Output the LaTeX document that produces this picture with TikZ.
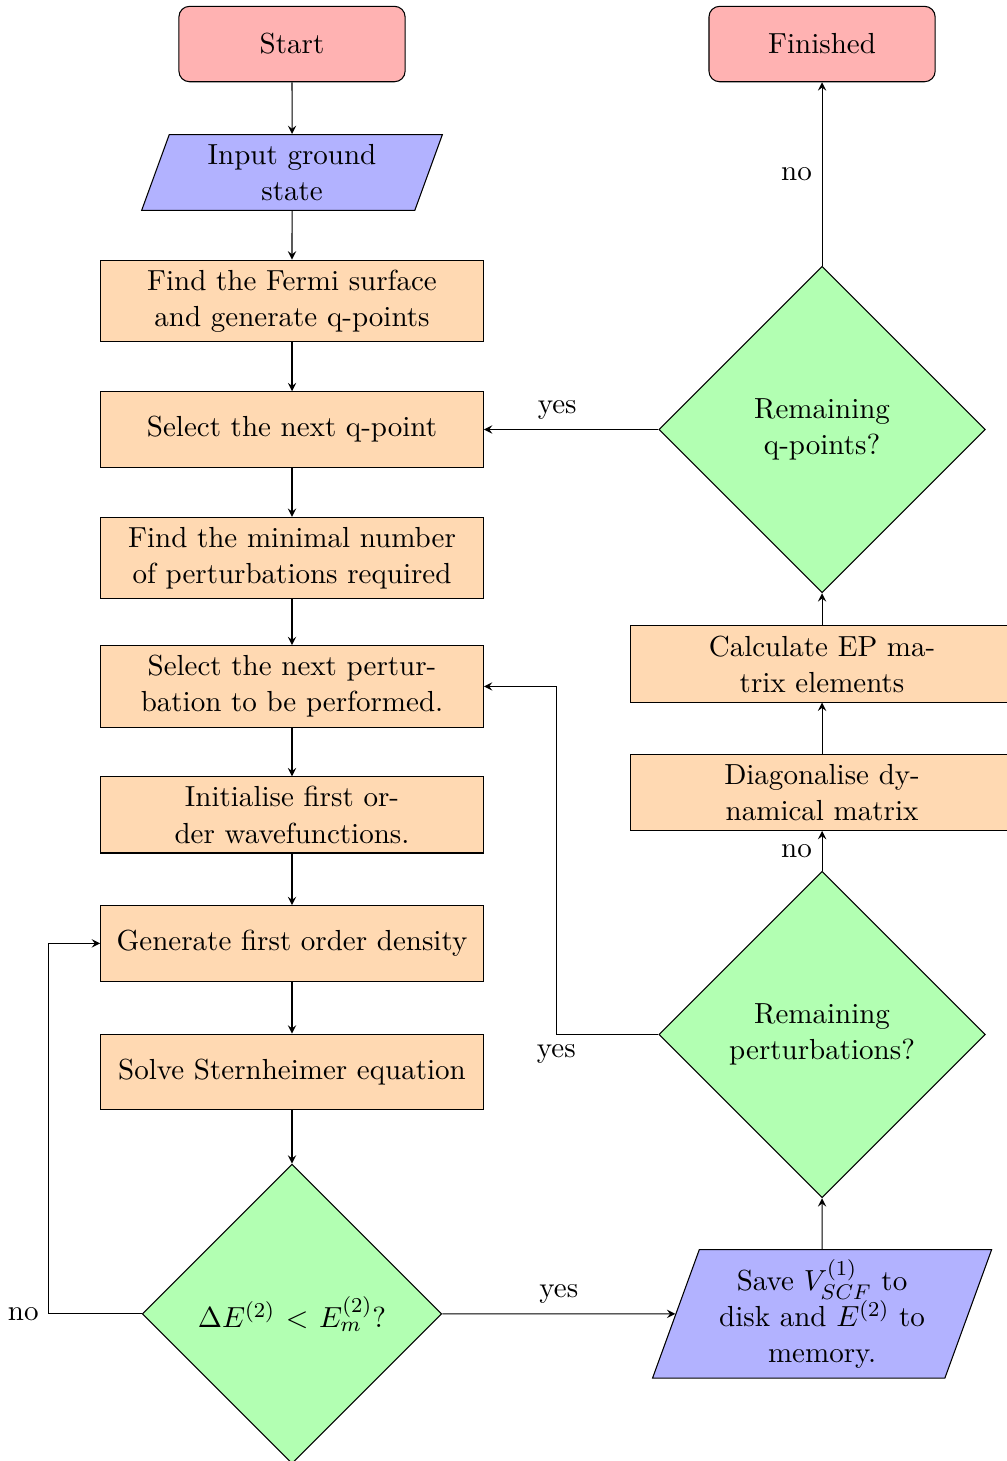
\documentclass[tikz,border=0pt,11pt]{standalone}
\usetikzlibrary{arrows.meta, positioning, shapes.geometric}

\begin{document}
\begin{tikzpicture}[node distance=1.704cm and 7.03cm, on grid, >=stealth,
    startstop/.style={rectangle, rounded corners, minimum width=3cm, minimum height=1cm, align=center, draw, fill=red!30},
    io/.style={trapezium, trapezium left angle=70, trapezium right angle=110, text width=3cm, minimum height=1cm, align=center, draw, fill=blue!30},
    process/.style={rectangle, text width=4.82cm, minimum height=1cm, align=center, draw, fill=orange!30},
    decision/.style={diamond, aspect=1, text width=3cm, align=center, draw, fill=green!30}]
    \useasboundingbox (-3.873,0.584) rectangle (9.482,-18.793);

    \node (S1) [startstop] {Start};
    \node (In1) [below=of S1, io] {Input ground\\state};
    \node (P1) [below=of In1, process] {Find the Fermi surface\\and generate q-points};
    \node (P2) [below=of P1, process] {Select the next q-point};
    \node (P3) [below=of P2, process] {Find the minimal number\\of perturbations required};
    \node (P4) [below=of P3, process] {Select the next pertur-\\bation to be performed.};
    \node (P5) [below=of P4, process] {Initialise first or-\\der wavefunctions.};
    \node (P6) [below=of P5, process] {Generate first order density};
    \node (P7) [below=of P6, process] {Solve Sternheimer equation};
    \node (D1) [below=3.21cm of P7, decision] {$\Delta E^{(2)} < E^{(2)}_m$?};

    \node (F1) [right=of S1, startstop] {Finished};
    \node (Q1) [right=of P2, decision] {Remaining\\q-points?};
    \node (P8) [below=3.11cm of Q1, process] {Calculate EP ma-\\trix elements};
    \node (P9) [below=of P8, process] {Diagonalise dy-\\namical matrix};
    \node (Q2) [below=3.21cm of P9, decision] {Remaining\\perturbations?};
    \node (In2) [right=of D1, io] {Save $V^{(1)}_{SCF}$ to\\disk and $E^{(2)}$ to\\memory.};

    \draw[->] (S1) -- (In1);
    \draw[->] (In1) -- (P1);
    \draw[->] (P1) -- (P2);
    \draw[->] (P2) -- (P3);
    \draw[->] (P3) -- (P4);
    \draw[->] (P4) -- (P5);
    \draw[->] (P5) -- (P6);
    \draw[->] (P6) -- (P7);
    \draw[->] (P7) -- (D1);

    \draw[->] (D1) -- node[midway, above] {yes} (In2);
    \draw[->] (D1.west) -- ++(-1.233,0) node[left] {no} |- (P6.west);

    \draw[->] (In2) -- (Q2);
    \draw[->] (Q2.west) -- ++(-1.353,0) node[below] {yes} |- (P4.east);
    \draw[->] (Q2) -- node[midway, left] {no} (P9);
    \draw[->] (P9) -- (P8);
    \draw[->] (P8) -- (Q1);
    \draw[->] (Q1) -- node[pos=0.58, above] {yes} (P2);
    \draw[->] (Q1) -- node[midway, left] {no} (F1);

\end{tikzpicture}
\end{document}
